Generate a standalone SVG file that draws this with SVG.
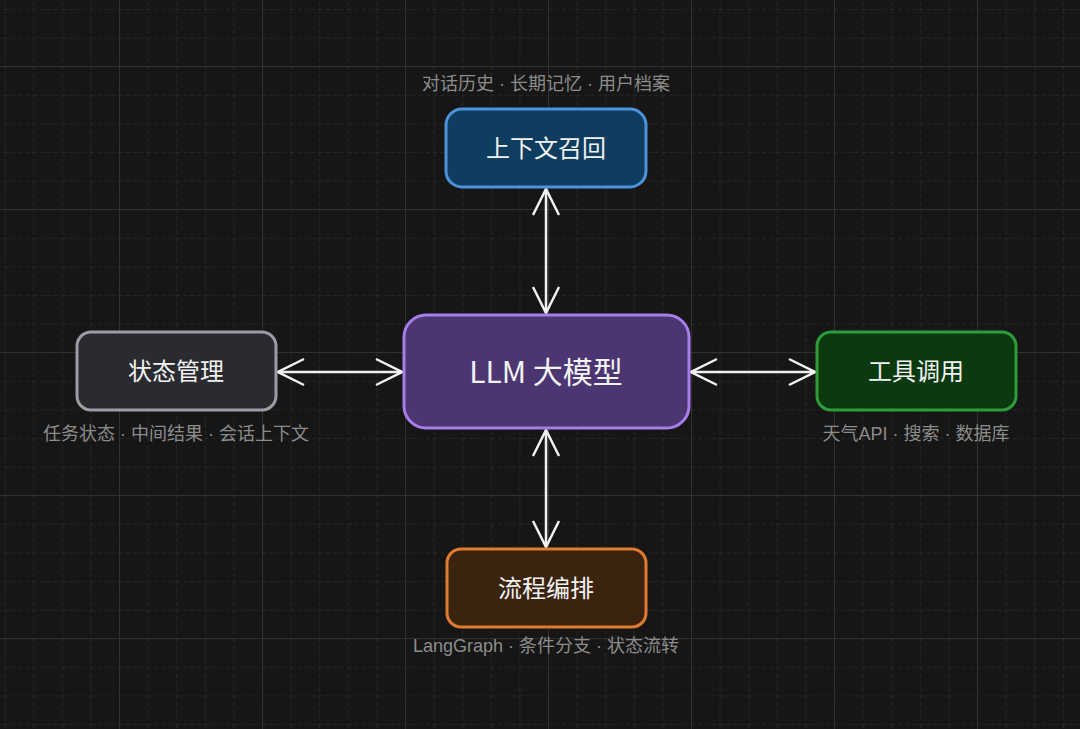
<svg xmlns="http://www.w3.org/2000/svg" width="1080" height="729" viewBox="0 0 1080 729">
<defs>
<pattern id="minor" x="4.6" y="9" width="28.6" height="28.6" patternUnits="userSpaceOnUse">
<path d="M0 0H28.6M0 0V28.6" fill="none" stroke="#333" stroke-width="1.2" stroke-dasharray="4 3"/>
</pattern>
<pattern id="major" x="119" y="66" width="143" height="143" patternUnits="userSpaceOnUse">
<path d="M0 0H143M0 0V143" fill="none" stroke="#363636" stroke-width="1.5"/>
</pattern>
<marker id="ah" viewBox="0 0 30 30" refX="28" refY="15" markerWidth="30" markerHeight="30" markerUnits="userSpaceOnUse" orient="auto-start-reverse">
<path d="M2 2L28 15L2 28" fill="none" stroke="#f0f0f0" stroke-width="2.5"/>
</marker>
<style>
.t{font-family:"Noto Sans CJK SC","Liberation Sans",sans-serif;fill:#f2f2f2;font-size:24px;text-anchor:middle;dominant-baseline:central}
.c{font-family:"Liberation Sans","Noto Sans CJK SC",sans-serif;fill:#8c8c8c;font-size:18px;text-anchor:middle;dominant-baseline:central}
.e{fill:none;stroke:#f0f0f0;stroke-width:2.5;marker-start:url(#ah);marker-end:url(#ah)}
</style>
</defs>
<rect width="1080" height="729" fill="#161616"/>
<rect width="1080" height="729" fill="url(#minor)"/>
<rect width="1080" height="729" fill="url(#major)"/>
<g id="connectors">
<path class="e" d="M546 189V313"/>
<path class="e" d="M546 430V547"/>
<path class="e" d="M278 372H402"/>
<path class="e" d="M691 372H815"/>
</g>
<g id="recall">
<rect x="446" y="109" width="200" height="78" rx="16" fill="#0e3d5f" stroke="#4d93dc" stroke-width="3"/>
<text class="t" x="546" y="146">上下文召回</text>
<text class="c" x="546" y="84">对话历史 · 长期记忆 · 用户档案</text>
</g>
<g id="llm">
<rect x="404" y="315" width="285" height="113" rx="22" fill="#4b3672" stroke="#a67de9" stroke-width="3"/>
<text class="t" x="546" y="370" style="font-size:30px">LLM 大模型</text>
</g>
<g id="state">
<rect x="77" y="332" width="199" height="78" rx="14" fill="#2a2b30" stroke="#9b9da2" stroke-width="3"/>
<text class="t" x="176" y="369">状态管理</text>
<text class="c" x="176" y="434">任务状态 · 中间结果 · 会话上下文</text>
</g>
<g id="tools">
<rect x="817" y="332" width="199" height="78" rx="14" fill="#0c3a10" stroke="#2f9b3b" stroke-width="3"/>
<text class="t" x="916" y="369">工具调用</text>
<text class="c" x="916" y="434">天气API · 搜索 · 数据库</text>
</g>
<g id="flow">
<rect x="447" y="549" width="199" height="78" rx="14" fill="#3a2410" stroke="#e07b31" stroke-width="3"/>
<text class="t" x="546" y="586">流程编排</text>
<text class="c" x="546" y="646">LangGraph · 条件分支 · 状态流转</text>
</g>
</svg>
